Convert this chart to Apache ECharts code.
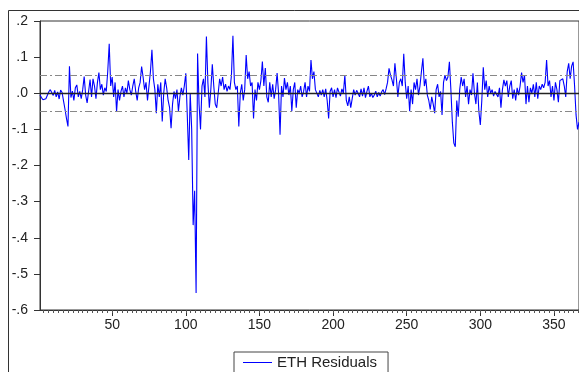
<!DOCTYPE html>
<html>
<head>
<meta charset="utf-8">
<title>ETH Residuals</title>
<script src="https://cdn.jsdelivr.net/npm/echarts@6/dist/echarts.min.js"></script>
<style>
html,body{margin:0;padding:0;background:#fff;}
#chart{width:579px;height:372px;}
</style>
</head>
<body>
<div id="chart"></div>
<script>
// residuals, obs 1..367
var residuals = [
    -0.005, -0.012, -0.018, -0.02, -0.015, -0.01, 0.004, 0.01, 0.012, -0.006,
    0.008, -0.01, 0.004, -0.016, 0.009, 0.002, -0.022, -0.045, -0.07, -0.092,
    0.075, -0.012, 0.006, -0.02, 0.015, 0.023, -0.01, 0.005, -0.015, 0.01,
    0.046, -0.005, -0.027, 0.005, 0.038, -0.01, 0.04, 0.02, -0.015, 0.03,
    0.057, 0.01, 0.025, -0.005, 0.015, 0.005, 0.06, 0.137, 0.02, 0.045,
    -0.01, 0.03, -0.051, 0.01, -0.02, 0.005, 0.02, -0.01, 0.015, 0.0,
    0.035, 0.01, -0.005, 0.02, 0.04, 0.005, -0.02, 0.015, 0.03, 0.074,
    0.045, 0.01, 0.03, -0.02, 0.02, 0.06, 0.12, 0.04, 0.01, -0.055,
    0.025, -0.01, 0.03, -0.078, 0.0, 0.04, 0.015, -0.02, -0.04, -0.097,
    -0.03, 0.005, -0.015, 0.01, -0.05, -0.01, 0.015, -0.005, 0.02, 0.055,
    -0.06, -0.185, 0.0, -0.1, -0.365, -0.27, -0.553, 0.11, -0.03, -0.10,
    0.02, 0.04, -0.01, 0.157, 0.03, -0.04, 0.01, 0.08, 0.02, -0.03,
    -0.04, 0.0, 0.04, 0.02, 0.045, 0.01, 0.025, 0.005, 0.02, 0.01,
    0.05, 0.159, 0.03, 0.01, 0.02, -0.092, 0.0, 0.025, -0.02, 0.01,
    0.106, 0.04, 0.06, 0.02, 0.03, -0.07, 0.01, -0.02, 0.03, 0.01,
    0.035, 0.088, 0.02, 0.07, -0.01, -0.025, 0.03, -0.01, 0.025, -0.015,
    0.01, 0.056, 0.0, -0.115, 0.02, -0.01, 0.042, 0.01, 0.03, -0.005,
    0.02, -0.05, 0.01, 0.03, -0.04, 0.01, 0.0, 0.02, -0.01, 0.005,
    0.03, -0.01, 0.02, 0.005, 0.092, 0.04, 0.06, 0.01, 0.005, -0.01,
    0.008, -0.005, 0.01, -0.01, 0.012, -0.02, -0.07, 0.005, 0.015, -0.01,
    0.01, -0.012, 0.015, 0.003, -0.008, 0.012, 0.0, 0.05, -0.02, -0.035,
    -0.01, -0.04, -0.015, 0.01, -0.005, 0.008, 0.0, -0.01, 0.012, -0.008,
    0.015, -0.012, 0.005, 0.02, -0.01, 0.0, -0.012, -0.005, 0.006, -0.01,
    0.002, -0.008, 0.004, 0.01, -0.004, 0.012, 0.03, 0.069, 0.05, 0.037,
    0.02, 0.083, 0.04, -0.01, 0.03, 0.04, 0.02, 0.109, 0.03, -0.015,
    0.02, -0.05, 0.01, -0.03, 0.03, 0.01, 0.04, -0.005, 0.02, 0.06,
    0.097, 0.02, 0.04, -0.005, -0.02, -0.045, -0.01, -0.03, -0.055, 0.01,
    0.025, -0.01, 0.005, -0.06, 0.03, 0.05, 0.035, 0.045, 0.087, 0.01,
    -0.08, -0.138, -0.148, -0.02, -0.065, 0.01, 0.045, 0.02, 0.04, -0.01,
    0.02, -0.03, 0.01, -0.005, 0.055, 0.0, -0.03, 0.03, -0.05, -0.088,
    -0.02, 0.072, 0.01, 0.035, -0.01, 0.02, 0.0, 0.01, -0.008, 0.005,
    0.01, -0.01, 0.015, -0.04, 0.01, 0.037, 0.02, 0.035, -0.01, 0.02,
    0.035, -0.015, 0.01, -0.02, 0.015, -0.005, 0.02, 0.057, 0.03, 0.05,
    -0.03, 0.02, -0.025, 0.015, 0.0, 0.025, -0.01, 0.03, -0.015, 0.02,
    0.01, 0.025, 0.015, 0.03, 0.092, 0.02, 0.035, -0.01, 0.02, -0.02,
    0.03, 0.01, -0.025, 0.035, 0.03, 0.04, 0.02, -0.01, 0.06, 0.083,
    0.04, 0.075, 0.087, 0.02, -0.06, -0.1, -0.08
];
var bandLevels = [0.052, -0.052];   // dashed +/- lines
var xLabels = [50, 100, 150, 200, 250, 300, 350];

var points = [];
for (var i = 0; i < residuals.length; i++) {
    points.push([i + 1, residuals[i]]);
}
// small ticks along the bottom axis
var minorTicks = [];
for (var t = 50; t > 1; t -= 10 / 3) minorTicks.unshift(t);
for (var t2 = 50 + 10 / 3; t2 < residuals.length; t2 += 10 / 3) minorTicks.push(t2);

var chart = echarts.init(document.getElementById('chart'));
var font = 'Arial, "Liberation Sans", sans-serif';

var option = {
    animation: false,
    backgroundColor: '#fff',
    grid: {
        left: 40, top: 21, right: -3, bottom: 62,
        show: true, borderColor: '#333', borderWidth: 1
    },
    legend: {
        data: ['ETH Residuals'],
        left: 234, top: 352,
        padding: [3, 11, 4, 9],
        borderColor: '#444', borderWidth: 1,
        icon: 'rect', itemWidth: 29, itemHeight: 1,
        textStyle: {fontFamily: font, fontSize: 15, color: '#222'}
    },
    xAxis: [
        {
            type: 'value', min: 1, max: residuals.length,
            axisLine: {onZero: false, lineStyle: {color: '#333'}},
            axisTick: {customValues: xLabels, length: 6, lineStyle: {color: '#333'}},
            axisLabel: {customValues: xLabels, margin: 8, fontFamily: font, fontSize: 14, color: '#222'},
            splitLine: {show: false}
        },
        {
            type: 'value', min: 1, max: residuals.length, position: 'bottom',
            axisLine: {show: false, onZero: false},
            axisTick: {customValues: minorTicks, length: 3, lineStyle: {color: '#555'}},
            axisLabel: {show: false},
            splitLine: {show: false}
        }
    ],
    yAxis: {
        type: 'value', min: -0.6, max: 0.2, interval: 0.1,
        axisLine: {show: true, onZero: false, lineStyle: {color: '#333'}},
        axisTick: {show: true, length: 6, lineStyle: {color: '#333'}},
        axisLabel: {
            margin: 12, fontFamily: font, fontSize: 14, color: '#222',
            formatter: function (v) {
                return v.toFixed(1).replace('0.', '.');
            }
        },
        splitLine: {show: false}
    },
    series: [
        {
            name: 'ETH Residuals',
            type: 'line',
            data: points,
            showSymbol: false,
            color: '#0000ff',
            lineStyle: {color: '#0000ff', width: 1.1},
            markLine: {
                silent: true,
                symbol: 'none',
                label: {show: false},
                data: [
                    {yAxis: 0, lineStyle: {color: '#222', type: 'solid', width: 1.3}},
                    {yAxis: bandLevels[0], lineStyle: {color: '#888', type: [7, 3, 2, 3], width: 1}},
                    {yAxis: bandLevels[1], lineStyle: {color: '#888', type: [7, 3, 2, 3], width: 1}}
                ]
            }
        }
    ],
    graphic: [
        {   // outer frame of the picture
            type: 'rect', silent: true,
            shape: {x: 8.5, y: 10.5, width: 600, height: 400},
            style: {fill: 'none', stroke: '#333', lineWidth: 1}
        }
    ]
};
chart.setOption(option);
</script>
</body>
</html>
